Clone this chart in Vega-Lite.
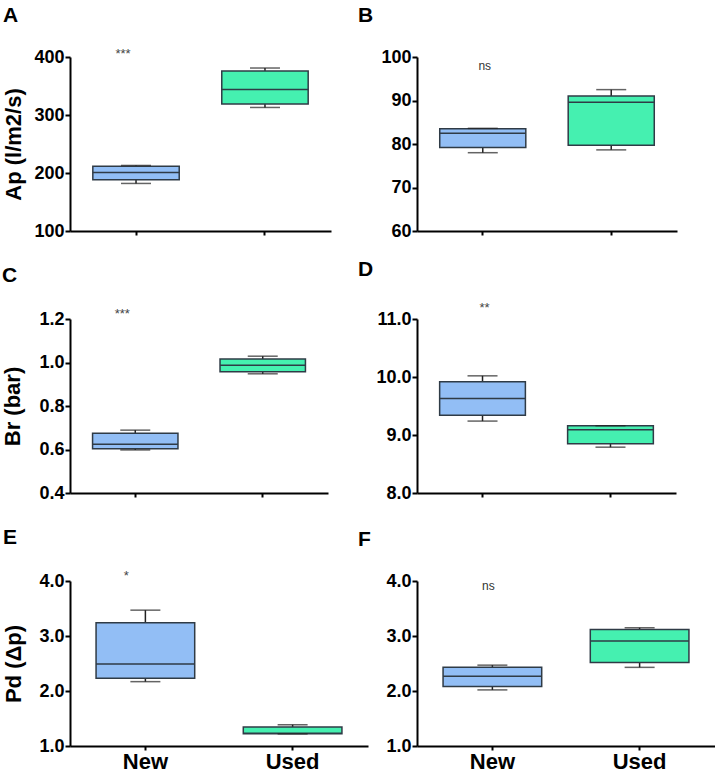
{
  "$schema": "https://vega.github.io/schema/vega-lite/v6.json",
  "padding": {"left": 1, "top": 4, "right": 0, "bottom": 0},
  "background": "white",
  "config": {
    "view": {"stroke": null},
    "font": "Liberation Sans",
    "axis": {"domainColor": "black", "domainWidth": 2, "tickColor": "black", "tickWidth": 2, "labelFont": "Liberation Sans", "labelFontWeight": "bold", "labelFontSize": 18, "labelColor": "black", "titleFont": "Liberation Sans", "titleFontWeight": "bold", "titleFontSize": 22, "titleColor": "black", "grid": false},
    "axisY": {"tickSize": 5, "labelPadding": 1},
    "axisX": {"tickSize": 4, "labelFontSize": 22, "labelPadding": 1, "labelAngle": 0},
    "title": {"font": "Liberation Sans", "fontWeight": "bold", "fontSize": 21, "color": "black", "anchor": "start", "frame": "group"}
  },
  "bounds": "flush",
  "columns": 2,
  "spacing": {"row": 88, "column": 49},
  "concat": [
    {
      "width": 261, "height": 174,
      "title": {"text": "A", "dx": -67, "offset": 22},
      "data": {"values": [
        {"group": "New", "min": 182, "q1": 188.5, "median": 201, "q3": 211.5, "max": 213},
        {"group": "Used", "min": 313, "q1": 319, "median": 344, "q3": 376, "max": 381}
      ]},
      "encoding": {"x": {"field": "group", "type": "nominal", "title": null, "scale": {"domain": ["New", "Used"], "paddingInner": 0, "paddingOuter": 0.012}, "axis": {"labels": false}}},
      "layer": [
        {"mark": {"type": "rule", "color": "#222222", "strokeWidth": 1.5}, "encoding": {"y": {"field": "min", "type": "quantitative", "title": "Ap (l/m2/s)", "scale": {"domain": [100, 400], "nice": false, "zero": false}, "axis": {"values": [100, 200, 300, 400], "titleX": -45, "titleBaseline": "bottom"}}, "y2": {"field": "max"}}},
        {"mark": {"type": "bar", "width": {"band": 0.67}, "stroke": "#2F3B46", "strokeWidth": 1.5}, "encoding": {"y": {"field": "q1", "type": "quantitative", "title": "Ap (l/m2/s)"}, "y2": {"field": "q3"}, "fill": {"field": "group", "type": "nominal", "scale": {"domain": ["New", "Used"], "range": ["#92BEF5", "#45F0B0"]}, "legend": null}}},
        {"mark": {"type": "bar", "width": {"band": 0.67}, "stroke": "#2F3B46", "strokeWidth": 1.5, "fillOpacity": 0}, "encoding": {"y": {"field": "median", "type": "quantitative", "title": "Ap (l/m2/s)"}, "y2": {"field": "median"}}},
        {"mark": {"type": "tick", "size": 30, "thickness": 1.5, "color": "#222222"}, "encoding": {"y": {"field": "min", "type": "quantitative", "title": "Ap (l/m2/s)"}}},
        {"mark": {"type": "tick", "size": 30, "thickness": 1.5, "color": "#222222"}, "encoding": {"y": {"field": "max", "type": "quantitative", "title": "Ap (l/m2/s)"}}},
        {"data": {"values": [{"group": "New", "y": 406, "label": "***"}]}, "mark": {"type": "text", "dx": -13, "fontSize": 13, "color": "#444444", "baseline": "middle"}, "encoding": {"y": {"field": "y", "type": "quantitative", "title": "Ap (l/m2/s)"}, "text": {"field": "label"}}}
      ]
    },
    {
      "width": 260, "height": 174,
      "title": {"text": "B", "dx": -59, "offset": 22},
      "data": {"values": [
        {"group": "New", "min": 78.0, "q1": 79.2, "median": 82.5, "q3": 83.5, "max": 83.6},
        {"group": "Used", "min": 78.65, "q1": 79.7, "median": 89.6, "q3": 91.06, "max": 92.5}
      ]},
      "encoding": {"x": {"field": "group", "type": "nominal", "title": null, "scale": {"domain": ["New", "Used"], "paddingInner": 0, "paddingOuter": 0.012}, "axis": {"labels": false}}},
      "layer": [
        {"mark": {"type": "rule", "color": "#222222", "strokeWidth": 1.5}, "encoding": {"y": {"field": "min", "type": "quantitative", "title": null, "scale": {"domain": [60, 100], "nice": false, "zero": false}, "axis": {"values": [60, 70, 80, 90, 100]}}, "y2": {"field": "max"}}},
        {"mark": {"type": "bar", "width": {"band": 0.67}, "stroke": "#2F3B46", "strokeWidth": 1.5}, "encoding": {"y": {"field": "q1", "type": "quantitative", "title": null}, "y2": {"field": "q3"}, "fill": {"field": "group", "type": "nominal", "scale": {"domain": ["New", "Used"], "range": ["#92BEF5", "#45F0B0"]}, "legend": null}}},
        {"mark": {"type": "bar", "width": {"band": 0.67}, "stroke": "#2F3B46", "strokeWidth": 1.5, "fillOpacity": 0}, "encoding": {"y": {"field": "median", "type": "quantitative", "title": null}, "y2": {"field": "median"}}},
        {"mark": {"type": "tick", "size": 30, "thickness": 1.5, "color": "#222222"}, "encoding": {"y": {"field": "min", "type": "quantitative", "title": null}}},
        {"mark": {"type": "tick", "size": 30, "thickness": 1.5, "color": "#222222"}, "encoding": {"y": {"field": "max", "type": "quantitative", "title": null}}},
        {"data": {"values": [{"group": "New", "y": 97.9, "label": "ns"}]}, "mark": {"type": "text", "dx": 2, "fontSize": 12, "color": "#333333", "baseline": "middle"}, "encoding": {"y": {"field": "y", "type": "quantitative", "title": null}, "text": {"field": "label"}}}
      ]
    },
    {
      "width": 258, "height": 174,
      "title": {"text": "C", "dx": -68, "offset": 22},
      "data": {"values": [
        {"group": "New", "min": 0.598, "q1": 0.604, "median": 0.624, "q3": 0.675, "max": 0.689},
        {"group": "Used", "min": 0.948, "q1": 0.9575, "median": 0.987, "q3": 1.016, "max": 1.029}
      ]},
      "encoding": {"x": {"field": "group", "type": "nominal", "title": null, "scale": {"domain": ["New", "Used"], "paddingInner": 0, "paddingOuter": 0.012}, "axis": {"labels": false}}},
      "layer": [
        {"mark": {"type": "rule", "color": "#222222", "strokeWidth": 1.5}, "encoding": {"y": {"field": "min", "type": "quantitative", "title": "Br (bar)", "scale": {"domain": [0.4, 1.2], "nice": false, "zero": false}, "axis": {"values": [0.4, 0.6, 0.8, 1.0, 1.2], "format": ".1f", "titleX": -46, "titleBaseline": "bottom"}}, "y2": {"field": "max"}}},
        {"mark": {"type": "bar", "width": {"band": 0.67}, "stroke": "#2F3B46", "strokeWidth": 1.5}, "encoding": {"y": {"field": "q1", "type": "quantitative", "title": "Br (bar)"}, "y2": {"field": "q3"}, "fill": {"field": "group", "type": "nominal", "scale": {"domain": ["New", "Used"], "range": ["#92BEF5", "#45F0B0"]}, "legend": null}}},
        {"mark": {"type": "bar", "width": {"band": 0.67}, "stroke": "#2F3B46", "strokeWidth": 1.5, "fillOpacity": 0}, "encoding": {"y": {"field": "median", "type": "quantitative", "title": "Br (bar)"}, "y2": {"field": "median"}}},
        {"mark": {"type": "tick", "size": 30, "thickness": 1.5, "color": "#222222"}, "encoding": {"y": {"field": "min", "type": "quantitative", "title": "Br (bar)"}}},
        {"mark": {"type": "tick", "size": 30, "thickness": 1.5, "color": "#222222"}, "encoding": {"y": {"field": "max", "type": "quantitative", "title": "Br (bar)"}}},
        {"data": {"values": [{"group": "New", "y": 1.223, "label": "***"}]}, "mark": {"type": "text", "dx": -13, "fontSize": 13, "color": "#444444", "baseline": "middle"}, "encoding": {"y": {"field": "y", "type": "quantitative", "title": "Br (bar)"}, "text": {"field": "label"}}}
      ]
    },
    {
      "width": 259, "height": 174,
      "title": {"text": "D", "dx": -59, "offset": 22},
      "data": {"values": [
        {"group": "New", "min": 9.24, "q1": 9.34, "median": 9.63, "q3": 9.92, "max": 10.02},
        {"group": "Used", "min": 8.79, "q1": 8.85, "median": 9.09, "q3": 9.16, "max": 9.16}
      ]},
      "encoding": {"x": {"field": "group", "type": "nominal", "title": null, "scale": {"domain": ["New", "Used"], "paddingInner": 0, "paddingOuter": 0.012}, "axis": {"labels": false}}},
      "layer": [
        {"mark": {"type": "rule", "color": "#222222", "strokeWidth": 1.5}, "encoding": {"y": {"field": "min", "type": "quantitative", "title": null, "scale": {"domain": [8, 11], "nice": false, "zero": false}, "axis": {"values": [8, 9, 10, 11], "format": ".1f"}}, "y2": {"field": "max"}}},
        {"mark": {"type": "bar", "width": {"band": 0.67}, "stroke": "#2F3B46", "strokeWidth": 1.5}, "encoding": {"y": {"field": "q1", "type": "quantitative", "title": null}, "y2": {"field": "q3"}, "fill": {"field": "group", "type": "nominal", "scale": {"domain": ["New", "Used"], "range": ["#92BEF5", "#45F0B0"]}, "legend": null}}},
        {"mark": {"type": "bar", "width": {"band": 0.67}, "stroke": "#2F3B46", "strokeWidth": 1.5, "fillOpacity": 0}, "encoding": {"y": {"field": "median", "type": "quantitative", "title": null}, "y2": {"field": "median"}}},
        {"mark": {"type": "tick", "size": 30, "thickness": 1.5, "color": "#222222"}, "encoding": {"y": {"field": "min", "type": "quantitative", "title": null}}},
        {"mark": {"type": "tick", "size": 30, "thickness": 1.5, "color": "#222222"}, "encoding": {"y": {"field": "max", "type": "quantitative", "title": null}}},
        {"data": {"values": [{"group": "New", "y": 11.195, "label": "**"}]}, "mark": {"type": "text", "dx": 2, "fontSize": 13, "color": "#444444", "baseline": "middle"}, "encoding": {"y": {"field": "y", "type": "quantitative", "title": null}, "text": {"field": "label"}}}
      ]
    },
    {
      "width": 298, "height": 165,
      "title": {"text": "E", "dx": -67, "offset": 22},
      "data": {"values": [
        {"group": "New", "min": 2.17, "q1": 2.23, "median": 2.49, "q3": 3.24, "max": 3.47},
        {"group": "Used", "min": 1.22, "q1": 1.223, "median": 1.23, "q3": 1.344, "max": 1.386}
      ]},
      "encoding": {"x": {"field": "group", "type": "nominal", "title": null, "scale": {"domain": ["New", "Used"], "paddingInner": 0, "paddingOuter": 0.012}}},
      "layer": [
        {"mark": {"type": "rule", "color": "#222222", "strokeWidth": 1.5}, "encoding": {"y": {"field": "min", "type": "quantitative", "title": "Pd (Δp)", "scale": {"domain": [1, 4], "nice": false, "zero": false}, "axis": {"values": [1, 2, 3, 4], "format": ".1f", "titleX": -45, "titleBaseline": "bottom"}}, "y2": {"field": "max"}}},
        {"mark": {"type": "bar", "width": {"band": 0.67}, "stroke": "#2F3B46", "strokeWidth": 1.5}, "encoding": {"y": {"field": "q1", "type": "quantitative", "title": "Pd (Δp)"}, "y2": {"field": "q3"}, "fill": {"field": "group", "type": "nominal", "scale": {"domain": ["New", "Used"], "range": ["#92BEF5", "#45F0B0"]}, "legend": null}}},
        {"mark": {"type": "bar", "width": {"band": 0.67}, "stroke": "#2F3B46", "strokeWidth": 1.5, "fillOpacity": 0}, "encoding": {"y": {"field": "median", "type": "quantitative", "title": "Pd (Δp)"}, "y2": {"field": "median"}}},
        {"mark": {"type": "tick", "size": 30, "thickness": 1.5, "color": "#222222"}, "encoding": {"y": {"field": "min", "type": "quantitative", "title": "Pd (Δp)"}}},
        {"mark": {"type": "tick", "size": 30, "thickness": 1.5, "color": "#222222"}, "encoding": {"y": {"field": "max", "type": "quantitative", "title": "Pd (Δp)"}}},
        {"data": {"values": [{"group": "New", "y": 4.086, "label": "*"}]}, "mark": {"type": "text", "dx": -19, "fontSize": 13, "color": "#444444", "baseline": "middle"}, "encoding": {"y": {"field": "y", "type": "quantitative", "title": "Pd (Δp)"}, "text": {"field": "label"}}}
      ]
    },
    {
      "width": 298, "height": 165,
      "title": {"text": "F", "dx": -59, "offset": 22},
      "data": {"values": [
        {"group": "New", "min": 2.02, "q1": 2.08, "median": 2.27, "q3": 2.43, "max": 2.47},
        {"group": "Used", "min": 2.43, "q1": 2.52, "median": 2.91, "q3": 3.12, "max": 3.15}
      ]},
      "encoding": {"x": {"field": "group", "type": "nominal", "title": null, "scale": {"domain": ["New", "Used"], "paddingInner": 0, "paddingOuter": 0.012}}},
      "layer": [
        {"mark": {"type": "rule", "color": "#222222", "strokeWidth": 1.5}, "encoding": {"y": {"field": "min", "type": "quantitative", "title": null, "scale": {"domain": [1, 4], "nice": false, "zero": false}, "axis": {"values": [1, 2, 3, 4], "format": ".1f"}}, "y2": {"field": "max"}}},
        {"mark": {"type": "bar", "width": {"band": 0.67}, "stroke": "#2F3B46", "strokeWidth": 1.5}, "encoding": {"y": {"field": "q1", "type": "quantitative", "title": null}, "y2": {"field": "q3"}, "fill": {"field": "group", "type": "nominal", "scale": {"domain": ["New", "Used"], "range": ["#92BEF5", "#45F0B0"]}, "legend": null}}},
        {"mark": {"type": "bar", "width": {"band": 0.67}, "stroke": "#2F3B46", "strokeWidth": 1.5, "fillOpacity": 0}, "encoding": {"y": {"field": "median", "type": "quantitative", "title": null}, "y2": {"field": "median"}}},
        {"mark": {"type": "tick", "size": 30, "thickness": 1.5, "color": "#222222"}, "encoding": {"y": {"field": "min", "type": "quantitative", "title": null}}},
        {"mark": {"type": "tick", "size": 30, "thickness": 1.5, "color": "#222222"}, "encoding": {"y": {"field": "max", "type": "quantitative", "title": null}}},
        {"data": {"values": [{"group": "New", "y": 3.91, "label": "ns"}]}, "mark": {"type": "text", "dx": -4, "fontSize": 12, "color": "#333333", "baseline": "middle"}, "encoding": {"y": {"field": "y", "type": "quantitative", "title": null}, "text": {"field": "label"}}}
      ]
    }
  ]
}
